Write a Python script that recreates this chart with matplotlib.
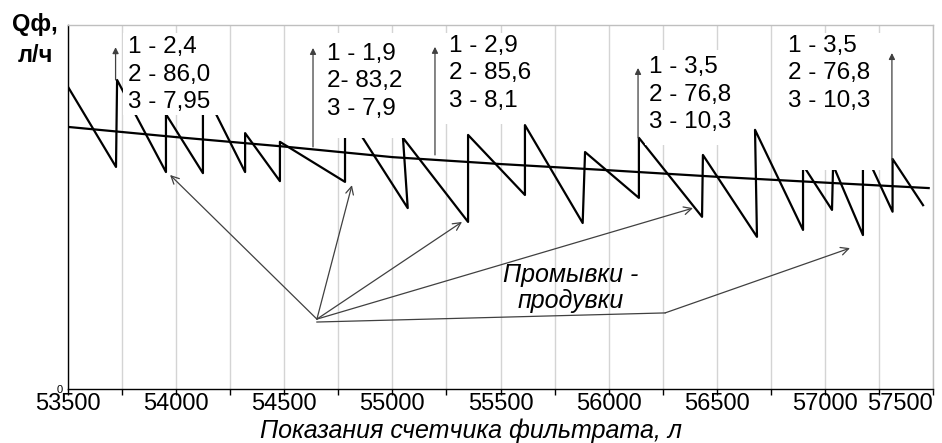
import matplotlib
matplotlib.use("Agg")
import matplotlib.pyplot as plt
from matplotlib.patches import Rectangle

plt.rcParams['font.family'] = ['Liberation Sans', 'DejaVu Sans']

# показания счетчика, л  /  Qф (относительные единицы)
saw_x = [53495, 53722, 53727, 53953, 53953, 54124, 54124, 54319, 54319, 54480, 54480,
         54781, 54781, 55071, 55049, 55350, 55350, 55613, 55613, 55880, 55891, 56140,
         56140, 56432, 56436, 56686, 56677, 56899, 56899, 57033, 57038, 57176, 57176,
         57313, 57313, 57454]
saw_y = [83.5, 61.0, 84.9, 59.6, 75.5, 59.3, 82.7, 59.6, 70.3, 57.1, 67.9,
         56.9, 76.6, 49.7, 69.0, 45.9, 69.8, 53.3, 72.5, 45.6, 65.1, 52.5,
         69.0, 47.3, 64.3, 41.8, 71.2, 43.7, 61.5, 49.2, 61.5, 42.3, 66.2,
         48.7, 63.2, 50.5]

trend_x = [53500, 54000, 54500, 55000, 55500, 56000, 56500, 57000, 57480]
trend_y = [72.0, 69.2, 66.6, 63.7, 61.8, 60.1, 58.3, 56.7, 55.2]

# подписи: 1 - ..., 2 - ..., 3 - ...
notes = [
    ["1 - 2,4", "2 - 86,0", "3 - 7,95"],
    ["1 - 1,9", "2- 83,2", "3 - 7,9"],
    ["1 - 2,9", "2 - 85,6", "3 - 8,1"],
    ["1 - 3,5", "2 - 76,8", "3 - 10,3"],
    ["1 - 3,5", "2 - 76,8", "3 - 10,3"],
]
note_x = [53777, 54698, 55262, 56187, 56830]
note_y = [92.3, 90.4, 92.6, 86.8, 92.6]
# белые подложки подписей (x0, x1, y0, y1)
boxes = [(53754, 54226, 75.3, 97.8), (54665, 55105, 69.0, 97.8),
         (55220, 55683, 72.8, 97.8), (56168, 56617, 67.0, 93.1),
         (56783, 57283, 60.2, 97.8)]

# вертикальные стрелки
up_x = [53720, 54633, 55197, 56136, 57310]
up_from = [84.9, 66.5, 64.3, 69.0, 62.9]
up_to = [93.9, 93.7, 94.0, 88.2, 92.3]

# промывки - продувки
hub = (54651, 19.2)
flush_x = [53972, 54813, 55322, 56390]
flush_y = [58.8, 56.0, 45.9, 49.7]
bend = (56261, 20.9)
last_target = (57116, 38.7)

ticks = list(range(53500, 57501, 250))
tick_labels = [str(t) if t % 500 == 0 else "" for t in ticks]

fig = plt.figure(figsize=(9.42, 4.43), dpi=100)
ax = fig.add_axes([68 / 942, 1 - 389 / 443, 865 / 942, 364 / 443])

ax.set_xlim(53500, 57500)
ax.set_ylim(0, 100)

ax.plot(saw_x, saw_y, color='black', lw=1.6, zorder=3)
ax.plot(trend_x, trend_y, color='black', lw=1.6, zorder=3)

for x0, x1, y0, y1 in boxes:
    ax.add_patch(Rectangle((x0, y0), x1 - x0, y1 - y0, facecolor='white',
                           edgecolor='none', zorder=4))

step = 7.55
for lines, x, y in zip(notes, note_x, note_y):
    for i, s in enumerate(lines):
        ax.text(x, y - i * step, s, fontsize=17.5, va='baseline', ha='left', zorder=5)

for x, y0, y1 in zip(up_x, up_from, up_to):
    ax.annotate('', xy=(x, y1), xytext=(x, y0),
                arrowprops=dict(arrowstyle='-|>', color='#404040', lw=0.9,
                                mutation_scale=9, shrinkA=0, shrinkB=0), zorder=4)

for x, y in zip(flush_x, flush_y):
    ax.annotate('', xy=(x, y), xytext=hub,
                arrowprops=dict(arrowstyle='->', color='#404040', lw=0.9,
                                mutation_scale=14, shrinkA=0, shrinkB=0), zorder=4)
ax.plot([hub[0], bend[0]], [hub[1] - 0.8, bend[1]], color='#404040', lw=0.9, zorder=4)
ax.annotate('', xy=last_target, xytext=bend,
            arrowprops=dict(arrowstyle='->', color='#404040', lw=0.9,
                            mutation_scale=14, shrinkA=0, shrinkB=0), zorder=4)

ax.text(55826, 29.4, "Промывки -", fontsize=18, style='italic', ha='center', va='baseline')
ax.text(55826, 22.3, "продувки", fontsize=18, style='italic', ha='center', va='baseline')

ax.set_xticks(ticks)
ax.set_xticklabels(tick_labels, fontsize=17)
ax.get_xticklabels()[-1].set_ha('right')
ax.tick_params(axis='x', direction='out', length=4, width=1, pad=-1)
ax.set_yticks([0])
ax.set_yticklabels(['0'], fontsize=8)
ax.tick_params(axis='y', length=0, pad=4)

ax.grid(True, axis='x', color='#d4d4d4', lw=1)
ax.set_axisbelow(True)
for side in ['left', 'bottom']:
    ax.spines[side].set_color('black')
    ax.spines[side].set_linewidth(1)
for side in ['top', 'right']:
    ax.spines[side].set_color('#bfbfbf')
    ax.spines[side].set_linewidth(1)

fig.text(35 / 942, 1 - 24 / 443, "Qф,", fontsize=17, fontweight='bold', ha='center', va='center')
fig.text(35 / 942, 1 - 55 / 443, "л/ч", fontsize=17, fontweight='bold', ha='center', va='center')
fig.text(471 / 942, 1 - 431 / 443, "Показания счетчика фильтрата, л", fontsize=18,
         style='italic', ha='center', va='center')

fig.savefig('out.png', dpi=100)
